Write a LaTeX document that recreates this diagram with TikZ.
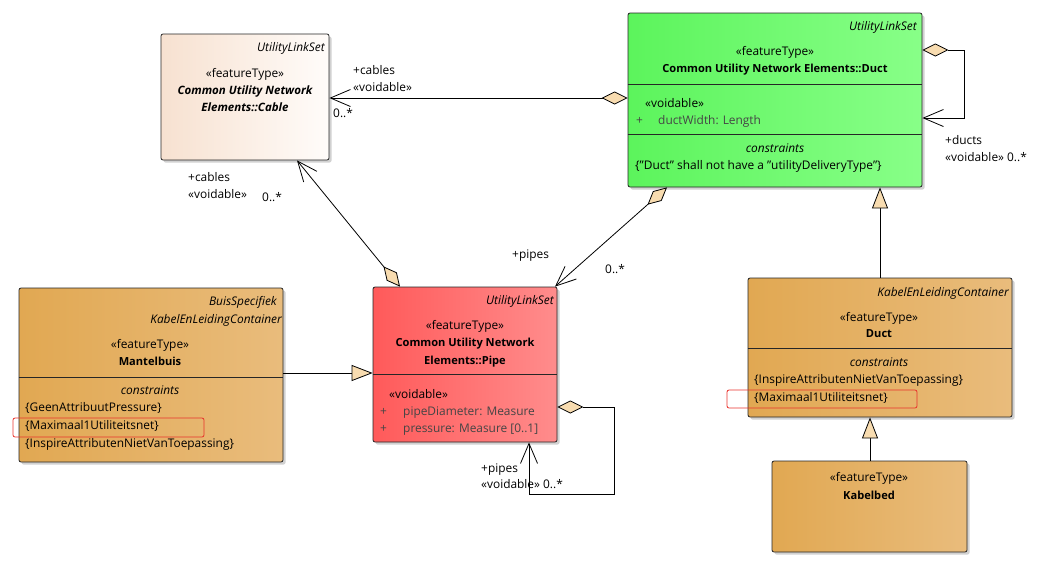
\documentclass[tikz,border=0pt]{standalone}
\usepackage{fontspec}
\setmainfont{Open Sans}
\usetikzlibrary{arrows.meta,shadows}
\definecolor{tanL}{HTML}{E1A852}
\definecolor{tanR}{HTML}{E9BC7C}
\definecolor{grnL}{HTML}{5CF45C}
\definecolor{grnR}{HTML}{88FF88}
\definecolor{redL}{HTML}{FF5A5A}
\definecolor{redR}{HTML}{FF8C8C}
\definecolor{cabL}{HTML}{F7E1D0}
\definecolor{cabR}{HTML}{FFFCFA}
\definecolor{diaf}{HTML}{F8DCB0}
\definecolor{attrc}{HTML}{454545}
\definecolor{redbox}{HTML}{E8322C}
\begin{document}
\begin{tikzpicture}[x=1pt,y=-1pt,
  font=\fontsize{11.9}{13}\selectfont,
  umlbox/.style={draw=black!85, line width=0.8pt, rounded corners=2pt, inner sep=0pt,
    drop shadow={shadow xshift=2.5pt, shadow yshift=-2.5pt, fill=black!30, opacity=0.6}},
  tx/.style={inner sep=0pt, anchor=base},
  txw/.style={inner sep=0pt, anchor=base west},
  txe/.style={inner sep=0pt, anchor=base east, font=\fontsize{11.9}{13}\selectfont\itshape},
  bf/.style={font=\fontsize{11.1}{13}\selectfont\bfseries},
  bfi/.style={font=\fontsize{11.5}{13}\selectfont\bfseries\itshape},
  itc/.style={font=\fontsize{11.9}{13}\selectfont\itshape},
  attr/.style={txw, text=attrc},
  sep/.style={line width=0.8pt, draw=black!85},
  assoc/.style={line width=0.8pt, {Diamond[length=26pt,width=13pt,fill=diaf]}-{Straight Barb[length=20pt,width=17pt]}},
  gen/.style={line width=0.8pt, -{Triangle[length=21pt,width=16pt,fill=diaf]}},
  redmark/.style={draw=redbox, line width=0.8pt, rounded corners=2pt}]
\useasboundingbox (0,0) rectangle (1040,568);

% ---------- boxes ----------
\node[umlbox, left color=cabL, right color=cabR, minimum width=168pt, minimum height=126pt] (cable) at (245,97) {};
\node[umlbox, left color=grnL, right color=grnR, minimum width=294pt, minimum height=174pt] (duct) at (775,100) {};
\node[umlbox, left color=redL, right color=redR, minimum width=184pt, minimum height=155pt] (pipe) at (465,364.5) {};
\node[umlbox, left color=tanL, right color=tanR, minimum width=264pt, minimum height=174pt] (mantel) at (151,375) {};
\node[umlbox, left color=tanL, right color=tanR, minimum width=264pt, minimum height=139pt] (rduct) at (880,347.5) {};
\node[umlbox, left color=tanL, right color=tanR, minimum width=195pt, minimum height=91pt] (kabelbed) at (869.5,506.5) {};

% ---------- compartments ----------
\draw[sep] (duct.west |- 0,84) -- (duct.east |- 0,84);
\draw[sep] (duct.west |- 0,134) -- (duct.east |- 0,134);
\draw[sep] (pipe.west |- 0,374) -- (pipe.east |- 0,374);
\draw[sep] (mantel.west |- 0,377) -- (mantel.east |- 0,377);
\draw[sep] (rduct.west |- 0,348) -- (rduct.east |- 0,348);

% ---------- Cable ----------
\node[txe] (c1) at (325,51) {UtilityLinkSet};
\node[tx] (c2) at (245,77) {«featureType»};
\node[tx, bfi] (c3) at (245,94) {Common Utility Network};
\node[tx, bfi] (c4) at (245,111) {Elements::Cable};

% ---------- Duct (green) ----------
\node[txe] (d1) at (917,30) {UtilityLinkSet};
\node[tx] (d2) at (775,55) {«featureType»};
\node[tx, bf] (d3) at (775,72) {Common Utility Network Elements::Duct};
\node[txw] (d4) at (645,107) {«voidable»};
\node[attr] (d5) at (636,124) {+};
\node[attr] (d6) at (658,124) {ductWidth: Length};
\node[tx, itc] (d7) at (775,152) {constraints};
\node[txw] (d8) at (635,169) {\{"Duct" shall not have a "utilityDeliveryType"\}};

% ---------- Pipe ----------
\node[txe] (p1) at (554,304) {UtilityLinkSet};
\node[tx] (p2) at (465,329) {«featureType»};
\node[tx, bf] (p3) at (465,346) {Common Utility Network};
\node[tx, bf] (p4) at (465,364) {Elements::Pipe};
\node[txw] (p5) at (389,398) {«voidable»};
\node[attr] (p6) at (380,415) {+};
\node[attr] (p7) at (403,415) {pipeDiameter: Measure};
\node[attr] (p8) at (380,432) {+};
\node[attr] (p9) at (403,432) {pressure: Measure [0..1]};

% ---------- Mantelbuis ----------
\node[txe] (m1) at (277,305) {BuisSpecifiek};
\node[txe] (m2) at (282,323) {KabelEnLeidingContainer};
\node[tx] (m3) at (150,348) {«featureType»};
\node[tx, bf] (m4) at (150,365) {Mantelbuis};
\node[tx, itc] (m5) at (150,394) {constraints};
\node[txw] (m6) at (25,411) {\{GeenAttribuutPressure\}};
\node[txw] (m7) at (25,429) {\{Maximaal1Utiliteitsnet\}};
\node[txw] (m8) at (25,447) {\{InspireAttributenNietVanToepassing\}};
\draw[redmark] (13,418) rectangle (204,437);

% ---------- Duct (KabelEnLeidingContainer) ----------
\node[txe] (r1) at (1009,296) {KabelEnLeidingContainer};
\node[tx] (r2) at (879,321) {«featureType»};
\node[tx, bf] (r3) at (879,337) {Duct};
\node[tx, itc] (r4) at (879,366) {constraints};
\node[txw] (r5) at (754,383) {\{InspireAttributenNietVanToepassing\}};
\node[txw] (r6) at (754,401) {\{Maximaal1Utiliteitsnet\}};
\draw[redmark] (727,390) rectangle (917,408);

% ---------- Kabelbed ----------
\node[tx] (k1) at (869,481) {«featureType»};
\node[tx, bf] (k2) at (869,499) {Kabelbed};

% ---------- connectors ----------
\draw[assoc] (duct.west |- 0,98) -- (cable.east |- 0,98);
\node[txw] (l1) at (353,74) {+cables};
\node[txw] (l2) at (353,91) {«voidable»};
\node[txw] (l3) at (333,117) {0..*};

\draw[assoc] (pipe.north -| 400,0) -- (cable.south -| 297,0);
\node[txw] (l4) at (188,181) {+cables};
\node[txw] (l5) at (188,198) {«voidable»};
\node[txw] (l6) at (262,201) {0..*};

\draw[assoc] (duct.south -| 667,0) -- (pipe.north -| 555,0);
\node[txw] (l7) at (512,258) {+pipes};
\node[txw] (l8) at (605,273) {0..*};

\draw[assoc] (duct.east |- 0,50) -- (964,50) -- (964,118) -- (duct.east |- 0,118);
\node[txw] (l9) at (945,144) {+ducts};
\node[txw] (l10) at (945,161) {«voidable» 0..*};

\draw[assoc] (pipe.east |- 0,407) -- (614,407) -- (614,494) -- (529,494) -- (pipe.south -| 529,0);
\node[txw] (l11) at (481,472) {+pipes};
\node[txw] (l12) at (481,488) {«voidable» 0..*};

\draw[gen] (mantel.east |- 0,373) -- (pipe.west |- 0,373);
\draw[gen] (rduct.north -| 880,0) -- (duct.south -| 880,0);
\draw[gen] (kabelbed.north -| 870,0) -- (rduct.south -| 870,0);
\end{tikzpicture}
\end{document}
